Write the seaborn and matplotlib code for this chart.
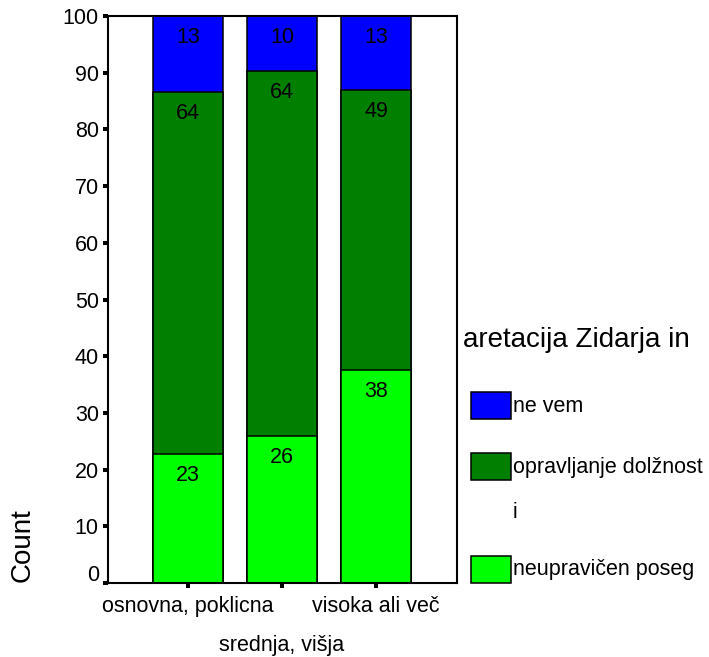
import numpy as np
import pandas as pd
import matplotlib
matplotlib.use("Agg")
import matplotlib.pyplot as plt
import seaborn as sns
from matplotlib.patches import Rectangle
from matplotlib.transforms import ScaledTranslation

# ---- data (percent of each education group) ----
categories = ["osnovna, poklicna", "srednja, višja", "visoka ali več"]
neupravicen = [22.7, 25.9, 37.6]     # neupravičen poseg
opravljanje = [63.9, 64.4, 49.4]     # opravljanje dolžnosti
ne_vem = [13.4, 9.7, 13.0]           # ne vem
series_names = ["ne vem", "opravljanje dolžnost\ni", "neupravičen poseg"]
legend_title = "aretacija Zidarja in"
y_ticks = [0, 10, 20, 30, 40, 50, 60, 70, 80, 90, 100]

colors = {"ne vem": "#0000FF", "opravljanje": "#007F00", "neupravicen": "#00FF00"}

sns.set_style("white")
plt.rcParams["font.family"] = ["Liberation Sans", "DejaVu Sans"]
plt.rcParams["text.color"] = "black"

W, H, DPI = 709, 657, 100
fig = plt.figure(figsize=(W / DPI, H / DPI), dpi=DPI, facecolor="white")
ax = fig.add_axes([108 / W, 1 - 583 / H, (457 - 108) / W, (583 - 16) / H])

df = pd.DataFrame({
    "cat": categories,
    "neupravicen": neupravicen,
    "opravljanje": opravljanje,
    "ne_vem": ne_vem,
})
df["c1"] = df["neupravicen"]
df["c2"] = df["c1"] + df["opravljanje"]
df["c3"] = df["c2"] + df["ne_vem"]

bw = 0.745
for col, colr in [("c3", colors["ne vem"]), ("c2", colors["opravljanje"]), ("c1", colors["neupravicen"])]:
    sns.barplot(data=df, x="cat", y=col, color=colr, saturation=1, width=bw,
                edgecolor="black", linewidth=1.1, errorbar=None, ax=ax, order=categories)

# value labels near top of each segment
for i in range(len(categories)):
    for val, top in [(df["neupravicen"][i], df["c1"][i]),
                     (df["opravljanje"][i], df["c2"][i]),
                     (df["ne_vem"][i], df["c3"][i])]:
        ax.annotate(f"{int(round(val))}", xy=(i, top), xytext=(0, -15.5),
                    textcoords="offset points", ha="center", va="center",
                    fontsize=15.5, color="black")

ax.set_xlim(-0.851, 2.862)
ax.set_ylim(0, 100)
ax.set_yticks(y_ticks)
ax.set_yticklabels([str(t) for t in y_ticks])
ax.set_xticks(range(len(categories)))
ax.set_xticklabels(categories)
ax.set_xlabel("")
ax.set_ylabel("")

for s in ax.spines.values():
    s.set_visible(True)
    s.set_color("black")
    s.set_linewidth(1.5)

ax.tick_params(axis="both", direction="out", length=3.6, width=2.9, color="black",
               labelsize=15.5, labelcolor="black")
ax.tick_params(axis="y", pad=3)
ax.tick_params(axis="x", pad=6)
ax.xaxis.set_ticks_position("bottom")
ax.yaxis.set_ticks_position("left")

# stagger the middle category label downward
xl = ax.get_xticklabels()
xl[1].set_transform(xl[1].get_transform() + ScaledTranslation(0, -28 / 72, fig.dpi_scale_trans))

# shift the "0" label up a little like the reference
yl = ax.get_yticklabels()
yl[0].set_transform(yl[0].get_transform() + ScaledTranslation(0, 7 / 72, fig.dpi_scale_trans))

# y label placed low, as in the reference
fig.text(23 / W, 1 - 545 / H, "Count", rotation=90, ha="center", va="center",
         fontsize=20, color="black")

# legend
fig.text(463 / W, 1 - 340 / H, legend_title, ha="left", va="center", fontsize=20, color="black")
leg_items = [(series_names[0], colors["ne vem"], 392, 406),
             (series_names[1], colors["opravljanje"], 453, 467),
             (series_names[2], colors["neupravicen"], 556, 570)]
for name, colr, ytop, ytxt in leg_items:
    fig.add_artist(Rectangle((471 / W, 1 - (ytop + 27) / H), 40 / W, 27 / H,
                             transform=fig.transFigure, facecolor=colr,
                             edgecolor="black", linewidth=1.1))
    lines = name.split("\n")
    fig.text(513 / W, 1 - ytxt / H, lines[0], ha="left", va="center", fontsize=15.5, color="black")
    if len(lines) > 1:
        fig.text(513 / W, 1 - (ytxt + 46) / H, lines[1], ha="left", va="center",
                 fontsize=15.5, color="black")

fig.savefig("out.png", dpi=DPI, facecolor="white")
